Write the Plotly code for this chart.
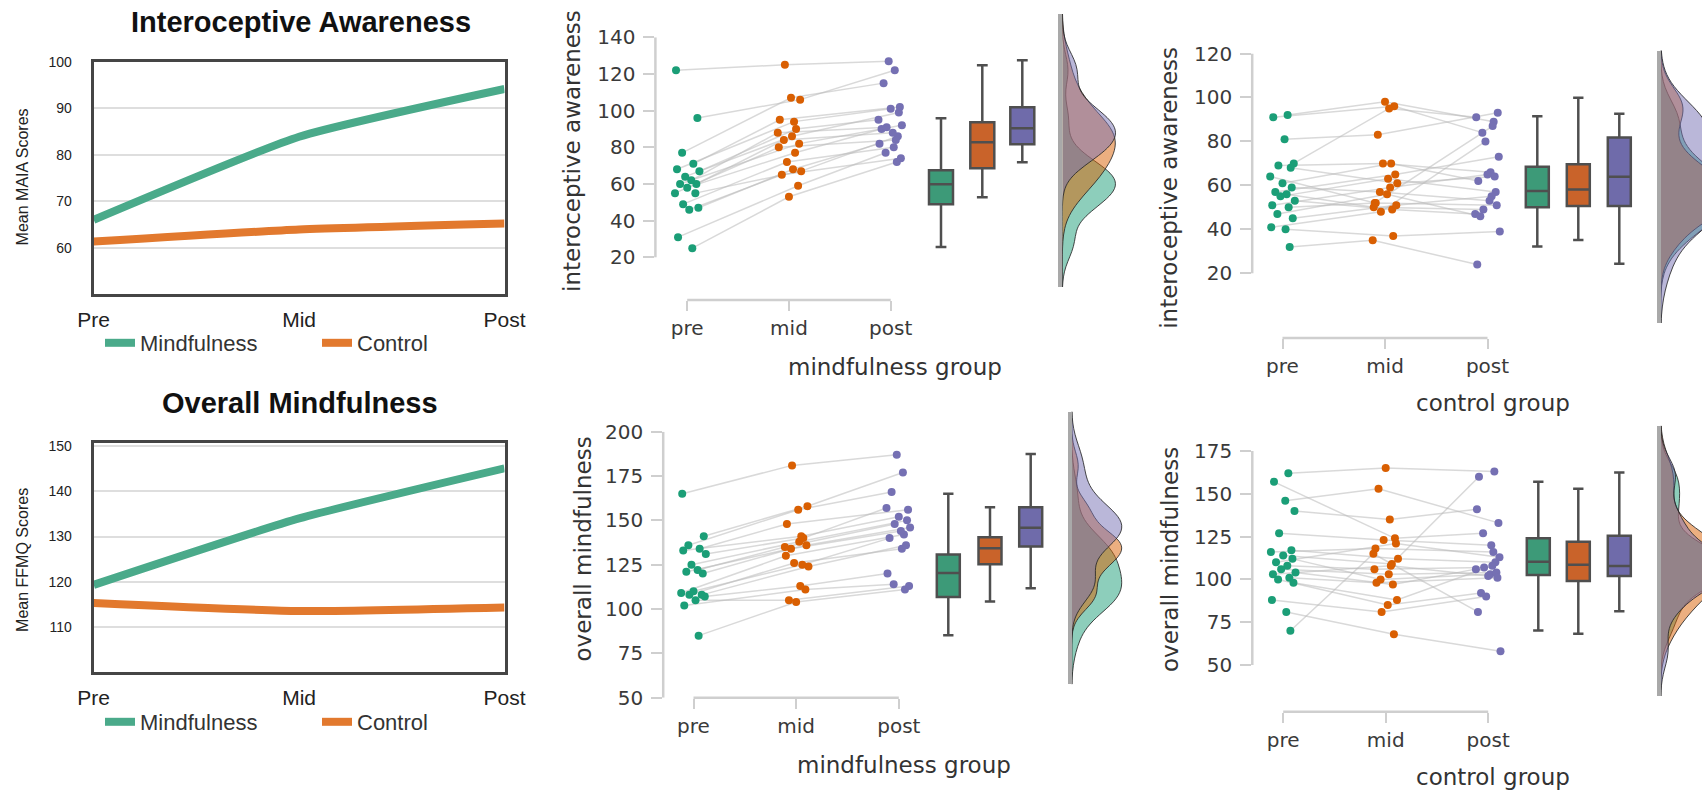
import plotly.graph_objects as go

# ---------------- data: left-hand line charts (group means) ----------------
TIME_LABELS = ["Pre", "Mid", "Post"]
SERIES_NAMES = ["Mindfulness", "Control"]
MAIA_MEAN_MINDFUL = [66.0, 83.9, 94.2]
MAIA_MEAN_CONTROL = [61.3, 63.9, 65.2]
FFMQ_MEAN_MINDFUL = [119.3, 134.0, 145.1]
FFMQ_MEAN_CONTROL = [115.3, 113.5, 114.3]
MAIA_TICKS = [60, 70, 80, 90, 100]
FFMQ_TICKS = [110, 120, 130, 140, 150]

# ---------------- data: raincloud panels (one value per participant) -------
PHASES = ["pre", "mid", "post"]

IA_MIND_PRE = [25, 31, 46, 47, 49, 55, 55, 58, 60, 60, 62, 64, 67, 68, 71, 77, 96, 122]
IA_MIND_MID = [53, 59, 65, 68, 72, 67, 80, 77, 84, 82, 88, 86, 90, 94, 95, 107, 106, 125]
IA_MIND_POST = [72, 77, 74, 82, 80, 86, 84, 90, 88, 92, 91, 99, 95, 101, 102, 115, 122, 127]

IA_CTRL_PRE = [92, 91, 81, 70, 69, 68, 64, 61, 59, 57, 56, 55, 53, 51, 50, 47, 45, 41, 40, 32]
IA_CTRL_MID = [98, 96, 83, 95, 70, 61, 52, 70, 57, 65, 50, 63, 49, 59, 52, 56, 51, 48, 37, 35]
IA_CTRL_POST = [89, 84, 93, 91, 66, 64, 87, 62, 53, 73, 49, 57, 47, 65, 51, 46, 55, 80, 39, 24]

OM_MIND_PRE = [85, 102, 105, 107, 108, 108, 109, 110, 120, 121, 122, 125, 131, 133, 134, 136, 141, 165]
OM_MIND_MID = [104, 111, 105, 113, 126, 124, 130, 125, 134, 136, 135, 138, 140, 141, 148, 156, 158, 181]
OM_MIND_POST = [111, 114, 113, 120, 134, 136, 142, 140, 144, 146, 148, 150, 157, 152, 156, 166, 177, 187]

OM_CTRL_PRE = [162, 157, 146, 140, 127, 117, 116, 114, 112, 110, 108, 106, 104, 103, 101, 100, 98, 88, 81, 70]
OM_CTRL_MID = [165, 124, 153, 135, 123, 112, 118, 109, 100, 121, 106, 103, 97, 108, 98, 85, 88, 81, 68, 115]
OM_CTRL_POST = [163, 127, 133, 141, 120, 110, 116, 160, 103, 113, 107, 104, 106, 102, 101, 92, 108, 90, 58, 81]

# box statistics, per phase (pre, mid, post)
IA_MIND_Q1, IA_MIND_MED, IA_MIND_Q3 = [49.0, 68.6, 81.7], [59.9, 82.8, 90.4], [67.5, 93.7, 101.9]
IA_MIND_LO, IA_MIND_HI = [25.6, 52.8, 71.9], [95.9, 124.7, 127.5]
IA_CTRL_Q1, IA_CTRL_MED, IA_CTRL_Q3 = [50.1, 50.6, 50.6], [57.4, 58.1, 63.9], [68.5, 69.6, 81.8]
IA_CTRL_LO, IA_CTRL_HI = [32.2, 35.1, 24.4], [91.4, 99.9, 92.6]
OM_MIND_Q1, OM_MIND_MED, OM_MIND_Q3 = [106.8, 125.3, 135.2], [120.3, 134.3, 145.9], [130.8, 140.5, 157.4]
OM_MIND_LO, OM_MIND_HI = [85.2, 104.2, 111.7], [165.0, 157.4, 187.4]
OM_CTRL_Q1, OM_CTRL_MED, OM_CTRL_Q3 = [102.6, 99.1, 102.0], [110.3, 108.5, 107.9], [124.1, 122.0, 125.5]
OM_CTRL_LO, OM_CTRL_HI = [70.2, 68.2, 81.4], [157.1, 152.9, 162.4]

IA_TICKS_MIND = [20, 40, 60, 80, 100, 120, 140]
IA_TICKS_CTRL = [20, 40, 60, 80, 100, 120]
OM_TICKS_MIND = [50, 75, 100, 125, 150, 175, 200]
OM_TICKS_CTRL = [50, 75, 100, 125, 150, 175]

# ---------------- styles / geometry ----------------
W, H = 1702, 792
FONT_SANS = "Liberation Sans, Arial, sans-serif"
FONT_RC = "DejaVu Sans, sans-serif"
LINE_COLORS = ["#4aaa8a", "#e2792e"]
DARK2 = ["#1b9e77", "#d95f02", "#7570b3"]
BOX_FILL = ["#3d9a78", "#c9632a", "#6f6baa"]
VIOLIN_FILL = ["rgba(27,158,119,0.5)", "rgba(217,95,2,0.5)", "rgba(117,112,179,0.5)"]
PAIR_LINE = "rgba(185,185,185,0.55)"
SPINE = "#cfcfcf"
TXT = "#3a3a3a"
JITTER = [0.05, -0.09, 0.02, 0.11, -0.04, 0.08, -0.12, 0.0, 0.09, -0.07,
          0.04, -0.02, 0.12, -0.10, 0.06, -0.05, 0.10, -0.11, 0.03, 0.07]

GEO_LINE_TOP = dict(x0=93.7, x1=504.5, y0=62, y1=294, title=(300.5, 22), ytitle=(22.4, 177), legend=(100, 343))
GEO_LINE_BOT = dict(x0=93.7, x1=504.5, y0=443, y1=672, title=(299.6, 403.3), ytitle=(22.4, 559.5), legend=(100, 722))

GEO_TOP_MID = dict(spine_x=655.4, pre=687.2, post=890.7, right=1045, boxes=[941.0, 982.3, 1022.3], box_w=24,
                   ycal=((140, 37.3), (20, 257.3)), top=37.3, spine_y=300, dens_left=1062.3, dens_right=1125,
                   dens_top=14, dens_bot=287, dens_half=53, ytitle=(571.4, 150.6), xtitle=(895, 367))
GEO_BOT_MID = dict(spine_x=663.2, pre=693.5, post=898.8, right=1050, boxes=[948.3, 990.0, 1030.7], box_w=23,
                   ycal=((200, 431.7), (50, 697.7)), top=431.7, spine_y=697.7, dens_left=1071.7, dens_right=1135,
                   dens_top=411.6, dens_bot=684.3, dens_half=50, ytitle=(582.5, 549), xtitle=(904.4, 765))
GEO_TOP_RIGHT = dict(spine_x=1252.2, pre=1282.5, post=1487.5, right=1640, boxes=[1537.3, 1578.3, 1619.3], box_w=23,
                     ycal=((120, 53.5), (20, 273.3)), top=53.5, spine_y=338, dens_left=1660.7, dens_right=1702,
                     dens_top=50.5, dens_bot=323, dens_half=70, ytitle=(1168.3, 187.5), xtitle=(1493, 403))
GEO_BOT_RIGHT = dict(spine_x=1252.3, pre=1283.2, post=1488.2, right=1640, boxes=[1538.3, 1578.3, 1619.3], box_w=23,
                     ycal=((175, 451), (50, 665)), top=451, spine_y=711.7, dens_left=1660.7, dens_right=1702,
                     dens_top=425.8, dens_bot=696, dens_half=70, ytitle=(1170, 560), xtitle=(1493, 776.7))


def xp(px):
    return px / W


def yp(py):
    return 1 - py / H


def ref(kind, n):
    return kind if n == 1 else f"{kind}{n}"


fig = go.Figure()
layout = dict(width=W, height=H, margin=dict(l=0, r=0, t=0, b=0, pad=0, autoexpand=False), autosize=False,
              paper_bgcolor="white", plot_bgcolor="white", violinmode="overlay", boxmode="overlay",
              hovermode=False)
annotations, shapes = [], []


def line_panel(n, geo, mind, ctrl, yrange, yticks, title, ytitle, legend_key):
    xr, yr = ref("x", n), ref("y", n)
    xs = list(range(len(TIME_LABELS)))
    for name, vals, col in zip(SERIES_NAMES, (mind, ctrl), LINE_COLORS):
        fig.add_trace(go.Scatter(x=xs, y=vals, name=name, mode="lines",
                                 line=dict(color=col, width=8, shape="spline", smoothing=0.5),
                                 xaxis=xr, yaxis=yr, legend=legend_key, showlegend=True))
    frame = dict(showline=True, mirror=True, linecolor="#454545", linewidth=3, zeroline=False, automargin=False)
    layout[ref("xaxis", n)] = dict(domain=[xp(geo["x0"]), xp(geo["x1"])], range=[0, len(TIME_LABELS) - 1],
                                   tickvals=xs, ticktext=TIME_LABELS, ticks="", showgrid=False,
                                   tickfont=dict(family=FONT_SANS, size=21, color="#222"),
                                   ticklabelstandoff=5, anchor=yr, **frame)
    layout[ref("yaxis", n)] = dict(domain=[yp(geo["y1"]), yp(geo["y0"])], range=yrange, tickvals=yticks,
                                   ticks="", showgrid=True, gridcolor="#dedede", gridwidth=2,
                                   tickfont=dict(family=FONT_SANS, size=14, color="#222"),
                                   ticklabelstandoff=16, anchor=xr, **frame)
    annotations.append(dict(text=f"<b>{title}</b>", x=xp(geo["title"][0]), y=yp(geo["title"][1]),
                            xref="paper", yref="paper", showarrow=False, xanchor="center", yanchor="middle",
                            font=dict(family=FONT_SANS, size=29, color="#111")))
    annotations.append(dict(text=ytitle, textangle=-90, x=xp(geo["ytitle"][0]), y=yp(geo["ytitle"][1]),
                            xref="paper", yref="paper", showarrow=False, xanchor="center", yanchor="middle",
                            font=dict(family=FONT_SANS, size=16, color="#222")))
    layout[legend_key] = dict(x=xp(geo["legend"][0]), y=yp(geo["legend"][1]), xanchor="left", yanchor="middle",
                              orientation="h", entrywidth=172, entrywidthmode="pixels",
                              font=dict(family=FONT_SANS, size=22, color="#333"),
                              bgcolor="rgba(0,0,0,0)", itemclick=False, itemdoubleclick=False)


def raincloud(n, g, pre, mid, post, q1, med, q3, lo, hi, yticks, ytitle, xtitle):
    xr, yr = f"x{n}", f"y{n}"
    xd, yd = f"x{n + 1}", f"y{n + 1}"
    unit = (g["post"] - g["pre"]) / 2.0

    def xv(px):
        return (px - g["pre"]) / unit

    (v1, p1), (v2, p2) = g["ycal"]

    def yv(py):
        return v1 + (py - p1) * (v2 - v1) / (p2 - p1)

    tick_font = dict(family=FONT_RC, size=20, color=TXT)
    layout[f"xaxis{n}"] = dict(domain=[xp(g["spine_x"]), xp(g["right"])], range=[xv(g["spine_x"]), xv(g["right"])],
                               anchor=yr, type="linear", tickvals=[0, 1, 2], ticktext=PHASES, ticks="outside",
                               ticklen=10, tickwidth=2, tickcolor=SPINE, showline=False, showgrid=False,
                               zeroline=False, tickfont=tick_font, automargin=False)
    layout[f"yaxis{n}"] = dict(domain=[yp(g["spine_y"]), yp(g["top"])], range=[yv(g["spine_y"]), yv(g["top"])],
                               anchor=xr, tickvals=yticks, ticks="outside", ticklen=11, tickwidth=2,
                               tickcolor=SPINE, showline=False, showgrid=False, zeroline=False,
                               tickfont=tick_font, ticklabelstandoff=4, automargin=False)
    # trimmed seaborn-style spines
    shapes.append(dict(type="line", xref=f"{xr} domain", yref=yr, x0=0, x1=0, y0=min(yticks), y1=max(yticks),
                       line=dict(color=SPINE, width=2.5), layer="below"))
    shapes.append(dict(type="line", xref=xr, yref=f"{yr} domain", x0=0, x1=len(PHASES) - 1, y0=0, y1=0,
                       line=dict(color=SPINE, width=2.5), layer="below"))

    groups = [pre, mid, post]
    nj = len(JITTER)
    lx, ly = [], []
    for i in range(len(pre)):
        for k in range(3):
            lx.append(k + JITTER[(i + 7 * k) % nj])
            ly.append(groups[k][i])
        lx.append(None)
        ly.append(None)
    fig.add_trace(go.Scatter(x=lx, y=ly, mode="lines", line=dict(color=PAIR_LINE, width=1.5),
                             xaxis=xr, yaxis=yr, showlegend=False))
    for k in range(3):
        fig.add_trace(go.Scatter(x=[k + JITTER[(i + 7 * k) % nj] for i in range(len(groups[k]))], y=groups[k],
                                 mode="markers", marker=dict(color=DARK2[k], size=8),
                                 xaxis=xr, yaxis=yr, showlegend=False, cliponaxis=False))
    for k in range(3):
        fig.add_trace(go.Box(x=[xv(g["boxes"][k])], q1=[q1[k]], median=[med[k]], q3=[q3[k]],
                             lowerfence=[lo[k]], upperfence=[hi[k]], width=g["box_w"] / unit,
                             fillcolor=BOX_FILL[k], line=dict(color="#4f4f4f", width=2.5),
                             whiskerwidth=0.45, boxpoints=False, xaxis=xr, yaxis=yr, showlegend=False))

    # half-violin densities
    wd = g["dens_right"] - g["dens_left"]
    dlo, dhi = yv(g["dens_bot"]), yv(g["dens_top"])
    layout[f"xaxis{n + 1}"] = dict(domain=[xp(g["dens_left"]), xp(g["dens_right"])], range=[0, 1], type="linear",
                                   anchor=yd, showticklabels=False, ticks="", showgrid=False, zeroline=False,
                                   showline=False, automargin=False)
    layout[f"yaxis{n + 1}"] = dict(domain=[yp(g["dens_bot"]), yp(g["dens_top"])], range=[dlo, dhi], anchor=xd,
                                   showline=True, linecolor="#a9a9a9", linewidth=4, showticklabels=False,
                                   ticks="", showgrid=False, zeroline=False, automargin=False)
    for k in range(3):
        fig.add_trace(go.Violin(y=groups[k], x0=0, orientation="v", side="positive",
                                width=2 * g["dens_half"] / wd, scalemode="count", scalegroup=f"d{n}",
                                spanmode="manual", span=[dlo, dhi], points=False,
                                box_visible=False, meanline_visible=False, fillcolor=VIOLIN_FILL[k],
                                line=dict(color="rgba(40,40,40,0.85)", width=1),
                                xaxis=xd, yaxis=yd, showlegend=False, name=PHASES[k]))

    title_font = dict(family=FONT_RC, size=23, color="#333")
    annotations.append(dict(text=ytitle, textangle=-90, x=xp(g["ytitle"][0]), y=yp(g["ytitle"][1]),
                            xref="paper", yref="paper", showarrow=False, xanchor="center", yanchor="middle",
                            font=title_font))
    annotations.append(dict(text=xtitle, x=xp(g["xtitle"][0]), y=yp(g["xtitle"][1]),
                            xref="paper", yref="paper", showarrow=False, xanchor="center", yanchor="middle",
                            font=title_font))


line_panel(1, GEO_LINE_TOP, MAIA_MEAN_MINDFUL, MAIA_MEAN_CONTROL, [50, 100], MAIA_TICKS,
           "Interoceptive Awareness", "Mean MAIA Scores", "legend")
line_panel(2, GEO_LINE_BOT, FFMQ_MEAN_MINDFUL, FFMQ_MEAN_CONTROL, [100, 150.7], FFMQ_TICKS,
           "Overall Mindfulness", "Mean FFMQ Scores", "legend2")

raincloud(3, GEO_TOP_MID, IA_MIND_PRE, IA_MIND_MID, IA_MIND_POST,
          IA_MIND_Q1, IA_MIND_MED, IA_MIND_Q3, IA_MIND_LO, IA_MIND_HI,
          IA_TICKS_MIND, "interoceptive awareness", "mindfulness group")
raincloud(5, GEO_BOT_MID, OM_MIND_PRE, OM_MIND_MID, OM_MIND_POST,
          OM_MIND_Q1, OM_MIND_MED, OM_MIND_Q3, OM_MIND_LO, OM_MIND_HI,
          OM_TICKS_MIND, "overall mindfulness", "mindfulness group")
raincloud(7, GEO_TOP_RIGHT, IA_CTRL_PRE, IA_CTRL_MID, IA_CTRL_POST,
          IA_CTRL_Q1, IA_CTRL_MED, IA_CTRL_Q3, IA_CTRL_LO, IA_CTRL_HI,
          IA_TICKS_CTRL, "interoceptive awareness", "control group")
raincloud(9, GEO_BOT_RIGHT, OM_CTRL_PRE, OM_CTRL_MID, OM_CTRL_POST,
          OM_CTRL_Q1, OM_CTRL_MED, OM_CTRL_Q3, OM_CTRL_LO, OM_CTRL_HI,
          OM_TICKS_CTRL, "overall mindfulness", "control group")

layout["annotations"] = annotations
layout["shapes"] = shapes
fig.update_layout(**layout)
fig.write_html("out.html", config={"displayModeBar": False},
               post_script="document.body.style.margin='0';document.body.style.overflow='hidden';")
